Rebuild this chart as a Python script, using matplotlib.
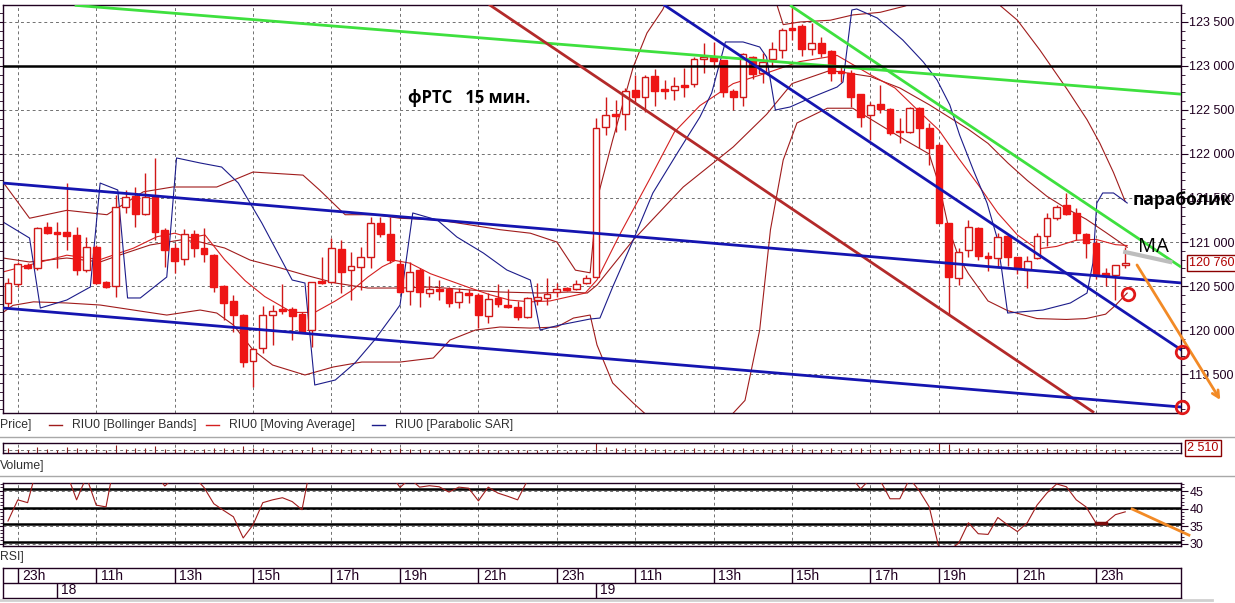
import numpy as np
import matplotlib
matplotlib.use('Agg')
import matplotlib.pyplot as plt
from matplotlib.lines import Line2D
from matplotlib.ticker import MultipleLocator
from matplotlib.transforms import blended_transform_factory

plt.rcParams['font.family'] = ['Liberation Sans Narrow', 'Liberation Sans', 'DejaVu Sans']

# ---------------- data: RIU0, 15 min bars ----------------
opens = [120310, 120525, 120740, 120705, 121170, 121115, 121115, 121080, 120680, 120943,
         120545, 120500, 121400, 121520, 121320, 121520, 121135, 120930, 120807, 121090,
         120930, 120850, 120500, 120330, 120170, 119648, 119795, 120170, 120240, 120240,
         120180, 120000, 120555, 120545, 120920, 120680, 120715, 120830, 121215, 121090,
         120750, 120443, 120682, 120420, 120466, 120466, 120318, 120420, 120398, 120160,
         120364, 120284, 120260, 120148, 120340, 120364, 120430, 120477, 120466, 120535,
         120603, 122307, 122455, 122455, 122727, 122648, 122886, 122739, 122727, 122784,
         122795, 123080, 123102, 123068, 122716, 122648, 123102, 122920, 123080, 123182,
         123432, 123455, 123193, 123261, 123170, 122943, 122920, 122682, 122443, 122568,
         122511, 122261, 122250, 122523, 122295, 122102, 121216, 120591, 120909, 121159,
         120841, 120818, 121068, 120830, 120682, 120818, 121068, 121273, 121420, 121330,
         121090, 120989, 120648, 120625, 120739]
highs = [120590, 120775, 120760, 121170, 121230, 121230, 121670, 121170, 121057, 120965,
         120555, 121535, 121590, 121625, 121785, 121955, 121160, 120990, 121150, 121135,
         121160, 120860, 120510, 120400, 120180, 119790, 120270, 120285, 120525, 120260,
         120205, 120545, 120830, 121045, 121020, 120885, 120943, 121285, 121285, 121285,
         120795, 120773, 120700, 120614, 120568, 120490, 120477, 120466, 120420, 120420,
         120523, 120466, 120330, 120375, 120535, 120590, 120535, 120490, 120568, 120625,
         122410, 122648, 122614, 122750, 122898, 122898, 122966, 122840, 122875, 122977,
         123102, 123261, 123272, 123068, 122739, 123148, 123114, 123148, 123272, 123432,
         123670, 123477, 123489, 123330, 123182, 122989, 122955, 122682, 122590, 122784,
         122523, 122409, 122534, 122534, 122352, 122125, 121216, 120932, 121250, 121170,
         120886, 121102, 121080, 120830, 120841, 121102, 121330, 121420, 121557, 121386,
         121102, 121023, 120705, 120739, 120943]
lows = [120260, 120490, 120690, 120680, 121090, 120705, 120910, 120625, 120660, 120520,
        120475, 120375, 121330, 121170, 121310, 121025, 120715, 120645, 120740, 120830,
        120770, 120430, 120115, 119977, 119580, 119352, 119740, 119830, 120180, 119885,
        119965, 119807, 120525, 120535, 120420, 120340, 120455, 120705, 121057, 120760,
        120420, 120284, 120260, 120375, 120340, 120260, 120250, 120307, 120022, 120080,
        120260, 120250, 120115, 120136, 120284, 120284, 120375, 120440, 120455, 120523,
        120603, 122216, 122250, 122273, 122580, 122477, 122545, 122625, 122614, 122648,
        122761, 122920, 122989, 122648, 122500, 122545, 122852, 122807, 122989, 123090,
        123295, 123114, 123125, 123102, 122830, 122818, 122534, 122307, 122159, 122466,
        122216, 122125, 122239, 122068, 121875, 121216, 120170, 120511, 120830, 120795,
        120670, 120716, 120727, 120636, 120477, 120807, 120955, 121250, 121307, 121023,
        120818, 120580, 120500, 120341, 120705]
closes = [120535, 120750, 120705, 121160, 121100, 121100, 121070, 120680, 120943, 120535,
          120490, 121400, 121510, 121320, 121510, 121115, 120910, 120785, 121090, 120930,
          120865, 120490, 120307, 120170, 119636, 119784, 120170, 120215, 120215, 120160,
          119977, 120545, 120535, 120930, 120660, 120725, 120830, 121215, 121090, 120795,
          120430, 120660, 120430, 120466, 120443, 120307, 120430, 120398, 120170, 120352,
          120295, 120260, 120148, 120364, 120375, 120410, 120466, 120455, 120523, 120590,
          122295, 122443, 122432, 122716, 122648, 122875, 122716, 122716, 122773, 122761,
          123080, 123102, 123057, 122705, 122648, 123136, 122909, 123045, 123193, 123409,
          123409, 123193, 123261, 123148, 122920, 122920, 122648, 122420, 122557, 122511,
          122239, 122250, 122523, 122295, 122068, 121216, 120603, 120886, 121170, 120841,
          120818, 121057, 120830, 120705, 120784, 121068, 121273, 121398, 121318, 121102,
          120989, 120625, 120614, 120739, 120760]
volumes = [5200, 4300, 2800, 6100, 3900, 3100, 5600, 4800, 4200, 3900,
           3300, 7900, 4100, 4600, 5100, 6800, 4400, 3800, 4200, 3300,
           3600, 4700, 5200, 4100, 7300, 5400, 4700, 3500, 3100, 3600,
           3300, 6200, 3600, 4500, 4200, 3700, 3500, 5100, 3300, 4300,
           4900, 3800, 4200, 3100, 2700, 3400, 3000, 2600, 4300, 3500,
           3000, 2600, 3300, 3400, 2900, 3200, 2700, 2400, 2800, 3100,
           11800, 6200, 4800, 5100, 4500, 4700, 4400, 3600, 3300, 3900,
           4800, 4400, 3500, 5200, 3900, 5300, 4300, 3800, 4100, 4600,
           4900, 4700, 3900, 3600, 4800, 3300, 5400, 4700, 4100, 3800,
           4600, 3700, 4200, 4400, 4900, 9800, 8700, 5200, 4800, 4600,
           3900, 4200, 4300, 3800, 4000, 4200, 4600, 3700, 4100, 4500,
           3900, 5200, 3300, 3700, 2510]
rsi = [36.5, 42.5, 41.7, 52, 55, 53, 50, 42.5, 49, 41,
       40.5, 55, 57, 53, 56, 50, 46.4, 49, 52, 49,
       46, 41.4, 39.5, 37.7, 31.7, 35.4, 41.7, 42.5, 43.1, 42,
       39.7, 54, 55, 58, 53, 54, 56, 60, 57, 50,
       46, 48.5, 46.1, 46.5, 46.2, 44.7, 46.1, 45.8, 42.2, 46.1,
       44.4, 43.5, 42.5, 48, 50, 52, 53, 52, 54, 55,
       75, 76, 76, 78, 77, 78, 76, 76, 76, 76,
       79, 79, 78, 70, 68, 74, 70, 72, 73, 76,
       75, 68, 69, 65, 58, 58, 49, 45.6, 48.5, 48,
       42.8, 42.8, 48.5, 45, 40.5, 28.8, 28.2, 30.2, 36, 32.9,
       32.7, 37.5, 35.4, 33.5, 36, 41, 44.4, 47, 46.2, 42.5,
       40.5, 36, 36, 38.3, 39.1]

# indicator lines (bar index, price)
bb_up_x = [-0.5, 2.2, 6.0, 10.1, 13.8, 16.8, 21.3, 25.0, 30.1, 31.8, 34.4, 37.4, 40.0, 43.9, 47.4,
           50.2, 53.3, 56.0, 57.9, 59.4, 60.1, 61.7, 63.8, 65.2, 66.8, 68.0, 72.0, 76.0, 78.3,
           79.1, 80.8, 83.9, 86.2, 89.0, 91.5, 94.6, 98.2, 101.2, 103.0, 105.3, 108.1, 110.1,
           111.4, 112.8, 114.0]
bb_up = [121680, 121270, 121360, 121310, 121570, 121625, 121625, 121795, 121760, 121590, 121310,
         121310, 121270, 121250, 121190, 121140, 121100, 121000, 120680, 120650, 121480, 122160,
         122990, 123375, 123640, 123920, 124500, 124200, 123750, 123470, 123500, 123520, 123580,
         123610, 123680, 123810, 123980, 123690, 123520, 123180, 122730, 122390, 122125, 121790,
         121460]
bb_mid_x = [-0.5, 2.2, 6.0, 9.4, 11.4, 14.5, 17.6, 19.6, 22.1, 24.7, 27.8, 30.3, 33.4, 36.7, 40.0,
            43.1, 47.1, 50.2, 54.3, 57.3, 59.1, 60.1, 63.8, 68.9, 74.0, 77.4, 80.0, 83.9, 88.0,
            91.0, 94.0, 96.0, 98.0, 100.0, 102.0, 104.0, 106.0, 108.0, 110.0, 112.0, 114.2]
bb_mid = [120818, 120773, 120818, 120773, 120852, 120966, 121023, 121000, 120932, 120795, 120705,
          120625, 120534, 120477, 120477, 120489, 120455, 120432, 120420, 120432, 120420, 120511,
          121023, 121625, 122080, 122450, 122800, 122950, 122880, 122750, 122560, 122420, 122280,
          122120, 121900, 121700, 121520, 121380, 121260, 121110, 120940]
bb_low_x = [-0.5, 0.5, 2.6, 6.0, 9.4, 12.8, 16.2, 19.6, 21.3, 23.0, 25.0, 27.0, 30.3, 33.2, 36.1,
            40.0, 43.4, 45.1, 47.7, 50.2, 53.3, 56.0, 57.7, 59.4, 60.1, 61.7, 63.8, 65.5, 68.6,
            72.7, 75.2, 76.7, 77.8, 79.1, 80.5, 83.6, 86.2, 89.0, 91.5, 94.0, 95.0, 96.0, 97.0,
            98.0, 100.0, 102.0, 105.0, 108.0, 110.0, 112.0, 113.0, 114.2]
bb_low = [120200, 120280, 120320, 120307, 120284, 120227, 120170, 120227, 120193, 120057, 119773,
          119602, 119489, 119580, 119636, 119636, 119682, 119886, 120000, 120034, 120022, 120034,
          120136, 120170, 119830, 119398, 119170, 119000, 118850, 118900, 119200, 120000, 121140,
          121932, 122352, 122520, 122520, 122330, 122160, 122000, 121650, 121150, 120830, 120640,
          120330, 120220, 120130, 120120, 120130, 120180, 120280, 120420]
ma_x = [-0.5, 2.2, 6.0, 9.4, 12.8, 15.2, 17.0, 18.6, 20.1, 22.1, 24.2, 26.2, 29.0, 31.3, 33.4,
        35.1, 36.7, 38.2, 39.5, 41.0, 43.1, 45.1, 47.1, 49.2, 51.2, 53.3, 55.3, 57.3, 58.9, 60.1,
        62.4, 65.5, 68.0, 70.6, 74.0, 77.4, 80.8, 84.6, 88.0, 90.5, 93.0, 95.0, 97.0, 99.0,
        101.0, 103.0, 105.0, 107.0, 109.0, 111.0, 113.0, 114.2]
ma = [120660, 120740, 120850, 120800, 120930, 121060, 121100, 121050, 121080, 120800, 120560,
      120380, 120200, 120200, 120330, 120450, 120600, 120720, 120790, 120760, 120640, 120560,
      120480, 120400, 120340, 120320, 120330, 120380, 120420, 120570, 121080, 121720, 122250,
      122550, 122800, 122920, 123050, 123120, 122900, 122750, 122480, 122270, 121950, 121650,
      121330, 121080, 120920, 120950, 121020, 121030, 120970, 120960]
sar_x = [-0.5, 2.2, 3.3, 6.0, 8.4, 9.4, 11.2, 12.2, 13.5, 16.2, 17.2, 19.6, 21.8, 23.5, 25.9,
         29.0, 30.3, 31.3, 33.4, 35.4, 37.4, 39.5, 40.0, 41.3, 43.8, 45.8, 48.5, 50.9, 53.3,
         54.3, 56.3, 59.4, 60.4, 61.7, 63.8, 65.8, 68.3, 70.6, 71.8, 73.2, 75.0, 76.7, 77.4,
         78.3, 79.8, 82.1, 84.6, 85.2, 86.1, 86.6, 88.7, 91.3, 93.4, 94.8, 96.1, 97.1, 98.5,
         99.9, 100.9, 101.4, 102.0, 105.6, 108.4, 110.1, 110.7, 111.1, 111.7, 112.8, 113.8, 114.2]
sar = [121227, 121045, 120250, 120341, 120489, 121670, 121591, 120364, 120364, 120602, 121955,
       121898, 121852, 121670, 121216, 120568, 120534, 119375, 119432, 119625, 119886, 120205,
       120284, 121330, 121250, 121057, 120875, 120682, 120568, 120000, 120057, 120125, 120136,
       120489, 121023, 121557, 122011, 122420, 122693, 123273, 123273, 123216, 123102, 122500,
       122534, 122648, 122761, 122818, 123636, 123648, 123545, 123295, 123045, 122841, 122557,
       122216, 121818, 121443, 121057, 120682, 120193, 120227, 120307, 120420, 120761, 121443,
       121557, 121557, 121477, 121443]

# hand-drawn lines and marks (bar index, price)
green_long = ([6.8, 119.7], [123690, 122680])
green_short = ([79.8, 119.7], [123690, 120715])
black_level = 123000
red_trend = ([49.2, 110.7], [123690, 119070])
blue_top = ([-0.5, 119.7], [121670, 120535])
blue_bottom = ([-0.5, 119.7], [120250, 119125])
blue_down = ([67.0, 119.7], [123690, 119775])
gray_ma = ([114.0, 118.6], [120886, 120773])
arrow_from, arrow_to = (115.2, 120739), (123.7, 119205)
circles_x = [114.3, 119.8, 119.8]
circles_y = [120409, 119750, 119125]
last_price = 120760
rsi_levels = [45.6, 40.2, 35.7, 30.6]
rsi_mark = ([111, 112], [36, 36])
rsi_arrow = ([114.7, 120.5], [39.9, 32.5])
vol_label = 2510

time_pos = [1, 9, 17, 25, 33, 40, 48, 56, 64, 72, 80, 88, 95, 103, 111]
time_lbl = ['23h', '11h', '13h', '15h', '17h', '19h', '21h', '23h',
            '11h', '13h', '15h', '17h', '19h', '21h', '23h']
date_pos = [5, 60]
date_lbl = ['18', '19']

# ---------------- layout ----------------
W, H = 1235, 603
fig = plt.figure(figsize=(W / 100, H / 100), dpi=100)
fig.patch.set_facecolor('white')


def rect(x0, y0, x1, y1):
    return [x0 / W, 1 - y1 / H, (x1 - x0) / W, (y1 - y0) / H]


XL = (-0.51, 119.69)
FRAME = '#200020'
GRID = dict(ls=(0, (3, 3)), color='#707070', lw=0.7)
RED = '#ee1515'
BB = '#a01c1c'
NUM = dict(fontsize=9, color='#200020')


def dress(a):
    a.set_xlim(*XL)
    a.set_xticks(time_pos)
    a.tick_params(axis='x', length=0, labelbottom=False)
    a.set_axisbelow(True)
    for s in a.spines.values():
        s.set_color(FRAME)
        s.set_linewidth(1)


# ---------------- price panel ----------------
ax = fig.add_axes(rect(3, 5, 1181, 413))
dress(ax)
ax.set_ylim(119057, 123693)
ticks = list(range(119500, 124000, 500))
ax.set_yticks(ticks)
ax.set_yticklabels([f'{t // 1000} {t % 1000:03d}' for t in ticks], **NUM)
ax.yaxis.set_minor_locator(MultipleLocator(100))
ax.tick_params(axis='y', which='both', left=True, right=True, labelleft=False,
               labelright=True, direction='out', colors=FRAME, pad=1)
ax.tick_params(axis='y', which='major', length=5)
ax.tick_params(axis='y', which='minor', length=3)
ax.grid(True, **GRID)

# indicators
ax.plot(bb_up_x, bb_up, color=BB, lw=0.8, zorder=2)
ax.plot(bb_mid_x, bb_mid, color=BB, lw=0.8, zorder=2)
ax.plot(bb_low_x, bb_low, color=BB, lw=0.8, zorder=2)
ax.plot(ma_x, ma, color='#d42020', lw=0.8, zorder=2)
ax.plot(sar_x, sar, color='#1c1c8a', lw=0.8, zorder=2)

# candles
idx = np.arange(len(closes))
o, h, l, c = (np.array(v, dtype=float) for v in (opens, highs, lows, closes))
ax.vlines(idx, l, h, color='#d01818', lw=1, zorder=3)
bh = np.maximum(np.abs(c - o), 22)
bottom = (o + c) / 2 - bh / 2
up = c > o
ax.bar(idx[up], bh[up], bottom=bottom[up], width=0.68, facecolor='white',
       edgecolor='#d01818', lw=1, zorder=4)
ax.bar(idx[~up], bh[~up], bottom=bottom[~up], width=0.68, facecolor=RED,
       edgecolor=RED, lw=1, zorder=4)

# drawn lines
ax.plot(*green_long, color='#3ee03e', lw=2, zorder=6, solid_capstyle='butt')
ax.plot(*green_short, color='#3ee03e', lw=2, zorder=6, solid_capstyle='butt')
ax.axhline(black_level, color='black', lw=1.8, zorder=6)
ax.plot(*red_trend, color='#b32a2a', lw=2, zorder=6)
ax.plot(*blue_top, color='#1515b0', lw=2, zorder=6)
ax.plot(*blue_bottom, color='#1515b0', lw=2, zorder=6)
ax.plot(*blue_down, color='#1515b0', lw=2, zorder=6)
ax.plot(*gray_ma, color='#bdbdbd', lw=3, zorder=6, clip_on=False)
ax.annotate('', xy=arrow_to, xytext=arrow_from, annotation_clip=False,
            arrowprops=dict(arrowstyle='->', color='#f28a26', lw=2, mutation_scale=12,
                            shrinkA=0, shrinkB=0), zorder=7)
ax.plot(circles_x, circles_y, 'o', ms=9, mfc='none', mec='#e01818', mew=2,
        clip_on=False, zorder=8)

tr = blended_transform_factory(ax.transAxes, ax.transData)
ax.text(1.0068, last_price, f'{last_price // 1000} {last_price % 1000:03d}', transform=tr,
        ha='left', va='center', fontsize=9, color='#b00000', zorder=9,
        bbox=dict(boxstyle='square,pad=0.18', fc='white', ec='#8b0000', lw=1))

ax.text(0.344, 0.772, 'фРТС   15 мин.', transform=ax.transAxes, ha='left', va='center',
        fontsize=12, fontweight='bold', family=['Open Sans', 'DejaVu Sans'], zorder=9)
ax.text(0.9593, 0.522, 'параболик', transform=ax.transAxes, ha='left', va='center',
        fontsize=12.5, fontweight='bold', family=['Open Sans', 'DejaVu Sans'], zorder=9)
ax.text(0.9635, 0.407, 'MA', transform=ax.transAxes, ha='left', va='center',
        fontsize=14.5, family=['Open Sans', 'DejaVu Sans'], zorder=9)

# ---------------- volume panel ----------------
axv = fig.add_axes(rect(3, 443, 1181, 453))
dress(axv)
axv.set_ylim(0, 10000)
axv.set_yticks([])
axv.grid(True, axis='x', **GRID)
axv.axhline(vol_label, **GRID)
axv.vlines(idx, 0, volumes, color='#8b1a1a', lw=0.8)
axv.text(1.0055, 0.5, f'{vol_label // 1000} {vol_label % 1000:03d}', transform=axv.transAxes,
         ha='left', va='center', fontsize=9, color='#b00000',
         bbox=dict(boxstyle='square,pad=0.18', fc='white', ec='#8b0000', lw=1))

# ---------------- RSI panel ----------------
axr = fig.add_axes(rect(3, 483, 1181, 546))
dress(axr)
axr.set_ylim(29.42, 47.27)
axr.set_yticks([30, 35, 40, 45])
axr.set_yticklabels(['30', '35', '40', '45'], **NUM)
axr.yaxis.set_minor_locator(MultipleLocator(1))
axr.tick_params(axis='y', which='both', left=True, right=True, labelleft=False,
                labelright=True, direction='out', colors=FRAME, pad=1)
axr.tick_params(axis='y', which='major', length=5)
axr.tick_params(axis='y', which='minor', length=2.5)
axr.grid(True, **GRID)
for lv in rsi_levels:
    axr.axhline(lv, color='black', lw=1.8, zorder=3)
axr.plot(idx, rsi, color='#a01c1c', lw=0.8, zorder=4)
axr.plot(*rsi_mark, color='#7a0a0a', lw=2.5, zorder=4)
axr.plot(*rsi_arrow, color='#f28a26', lw=2, zorder=5, clip_on=False)

# ---------------- time axis ----------------
axt = fig.add_axes(rect(3, 568, 1181, 598))
axt.set_xlim(*XL)
axt.set_ylim(0, 2)
axt.set_xticks([])
axt.set_yticks([])
for s in axt.spines.values():
    s.set_color(FRAME)
    s.set_linewidth(1)
axt.axhline(1, color=FRAME, lw=1)
axt.vlines(time_pos, 1, 2, color=FRAME, lw=1)
axt.vlines(date_pos, 0, 1, color=FRAME, lw=1)
for p, s in zip(time_pos, time_lbl):
    axt.text(p + 0.45, 1.5, s, ha='left', va='center', fontsize=10, color='#200020')
for p, s in zip(date_pos, date_lbl):
    axt.text(p + 0.45, 0.5, s, ha='left', va='center', fontsize=10, color='#200020')


# ---------------- legend row / separators ----------------
def fx(x):
    return x / W


def fy(y):
    return 1 - y / H


for y in (437, 476):
    fig.add_artist(Line2D([0, 1], [fy(y)] * 2, color='#a8a8a8', lw=1))
fig.add_artist(Line2D([0, fx(1212)], [fy(600)] * 2, color='#d0d0d0', lw=2))

TXT = dict(fontsize=8.8, color='#303030', va='center', ha='left')
fig.text(fx(0), fy(425), 'Price]', **TXT)
legend_items = [(49, BB, 'RIU0 [Bollinger Bands]'),
                (206, '#d42020', 'RIU0 [Moving Average]'),
                (372, '#1c1c8a', 'RIU0 [Parabolic SAR]')]
for x0, col, label in legend_items:
    fig.add_artist(Line2D([fx(x0), fx(x0 + 13)], [fy(425)] * 2, color=col, lw=1))
    fig.text(fx(x0 + 23), fy(425), label, **TXT)
fig.text(fx(0), fy(466), 'Volume]', **TXT)
fig.text(fx(0), fy(557), 'RSI]', **TXT)

fig.savefig('out.png', dpi=100, facecolor='white')
